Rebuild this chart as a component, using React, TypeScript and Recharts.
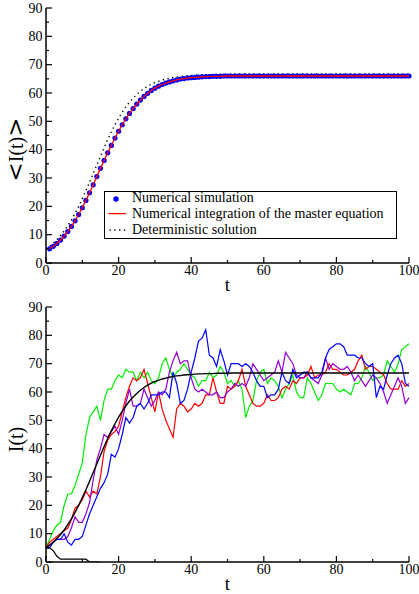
import React from 'react';
import { LineChart, Line, XAxis, YAxis, Legend } from 'recharts';

const FONT = '"Liberation Serif", "Times New Roman", Times, serif';

// ---------- tick definitions ----------
const tTicks = [0, 10, 20, 30, 40, 50, 60, 70, 80, 90, 100];
const yTicks = [0, 5, 10, 15, 20, 25, 30, 35, 40, 45, 50, 55, 60, 65, 70, 75, 80, 85, 90];

// ---------- top panel: <I(t)> ----------
// numerical simulation mean (t = 1..100)
const simMean = [
  5.0, 5.9, 6.9, 8.1, 9.5, 11.1, 12.9, 14.9, 17.1, 19.5,
  22.1, 24.8, 27.6, 30.5, 33.4, 36.2, 38.9, 41.5, 44.1, 46.5,
  48.8, 50.9, 52.8, 54.5, 56.1, 57.5, 58.8, 59.9, 60.9, 61.7,
  62.4, 63.0, 63.5, 63.9, 64.3, 64.6, 64.9, 65.1, 65.3, 65.4,
  65.5, 65.6, 65.7, 65.8, 65.8, 65.9, 65.9, 65.9, 66.0, 66.0,
  66.0, 66.0, 66.0, 66.0, 66.0, 66.0, 66.0, 66.0, 66.0, 66.0,
  66.0, 66.0, 66.0, 66.0, 66.0, 66.0, 66.0, 66.0, 66.0, 66.0,
  66.0, 66.0, 66.0, 66.0, 66.0, 66.0, 66.0, 66.0, 66.0, 66.0,
  66.0, 66.0, 66.0, 66.0, 66.0, 66.0, 66.0, 66.0, 66.0, 66.0,
  66.0, 66.0, 66.0, 66.0, 66.0, 66.0, 66.0, 66.0, 66.0, 66.0,
];
// numerical integration of the master equation (t = 1..100), overlaps the simulation
const masterEq = simMean;

// deterministic solution (t = 0..100)
const detSolution = [
  5.0, 5.9, 7.0, 8.3, 9.7, 11.3, 13.2, 15.2, 17.5, 20.0,
  22.7, 25.5, 28.5, 31.6, 34.6, 37.7, 40.7, 43.6, 46.3, 48.8,
  51.1, 53.2, 55.1, 56.8, 58.2, 59.5, 60.6, 61.6, 62.4, 63.1,
  63.7, 64.1, 64.6, 64.9, 65.2, 65.5, 65.7, 65.8, 66.0, 66.1,
  66.2, 66.3, 66.4, 66.4, 66.5, 66.5, 66.5, 66.6, 66.6, 66.6,
  66.6, 66.7, 66.7, 66.7, 66.7, 66.7, 66.7, 66.7, 66.7, 66.7,
  66.7, 66.7, 66.7, 66.7, 66.7, 66.7, 66.7, 66.7, 66.7, 66.7,
  66.7, 66.7, 66.7, 66.7, 66.7, 66.7, 66.7, 66.7, 66.7, 66.7,
  66.7, 66.7, 66.7, 66.7, 66.7, 66.7, 66.7, 66.7, 66.7, 66.7,
  66.7, 66.7, 66.7, 66.7, 66.7, 66.7, 66.7, 66.7, 66.7, 66.7,
  66.7,
];

// ---------- bottom panel: single realisations I(t), t = 0..100 ----------
const runGreen = [
  5, 8, 11, 13, 14, 20, 24, 24, 27, 31,
  35, 45, 51, 53, 55, 50, 57, 61, 61, 64,
  66, 65, 68, 67, 67, 64, 67, 65, 67, 64,
  63, 65, 70, 72, 68, 65, 67, 68, 70, 68,
  66, 65, 62, 64, 64, 67, 65, 66, 69, 67,
  63, 64, 62, 64, 61, 51, 55, 57, 64, 67,
  68, 63, 65, 64, 62, 58, 61, 63, 66, 60,
  58, 58, 65, 63, 60, 57, 59, 63, 63, 63,
  61, 60, 61, 60, 59, 63, 63, 65, 69, 67,
  64, 65, 65, 66, 71, 69, 67, 70, 75, 76,
  77,
];
const runRed = [
  5, 7, 8, 9, 10, 11, 12, 15, 19, 20,
  22, 25, 23, 25, 24, 30, 39, 43, 45, 46,
  48, 53, 58, 62, 65, 64, 65, 68, 63, 58,
  53, 60, 54, 50, 47, 44, 54, 56, 55, 53,
  54, 56, 55, 56, 59, 59, 65, 60, 56, 56,
  62, 61, 62, 64, 68, 62, 59, 56, 55, 55,
  56, 59, 57, 57, 58, 61, 62, 61, 64, 63,
  65, 65, 66, 69, 65, 66, 66, 67, 70, 68,
  68, 67, 66, 66, 67, 68, 71, 73, 68, 69,
  69, 68, 67, 66, 63, 61, 61, 61, 64, 62,
  63,
];
const runPurple = [
  5, 6, 7, 8, 8, 8, 9, 12, 16, 14,
  14, 17, 21, 29, 36, 40, 45, 44, 46, 48,
  45, 50, 56, 61, 55, 55, 56, 61, 58, 55,
  57, 60, 59, 61, 67, 71, 74, 70, 71, 71,
  65, 61, 60, 61, 60, 59, 59, 60, 58, 58,
  60, 61, 63, 62, 63, 62, 65, 70, 68, 66,
  64, 65, 66, 67, 71, 67, 74, 72, 70, 66,
  65, 65, 67, 65, 64, 63, 66, 72, 68, 70,
  69, 68, 68, 69, 67, 64, 66, 64, 62, 64,
  66, 65, 63, 60, 56, 59, 62, 65, 62, 56,
  58,
];
const runBlue = [
  5, 5, 7, 8, 8, 10, 7, 6, 8, 8,
  9, 13, 17, 20, 23, 26, 28, 31, 38, 37,
  40, 45, 51, 49, 51, 55, 56, 54, 56, 59,
  59, 59, 60, 60, 58, 67, 63, 56, 57, 61,
  67, 72, 78, 79, 82, 73, 72, 69, 75, 71,
  66, 70, 70, 70, 69, 70, 69, 67, 64, 62,
  62, 58, 59, 59, 61, 67, 64, 63, 68, 65,
  66, 67, 67, 65, 65, 65, 67, 72, 75, 76,
  77, 77, 76, 73, 73, 73, 72, 72, 70, 69,
  70, 58, 62, 61, 66, 70, 72, 73, 70, 63,
  62,
];
// realisation that goes extinct (t = 0..15)
const runExtinct = [5, 5, 4, 2, 1, 1, 1, 1, 1, 1, 1, 1, 0, 0, 0, 0];

const topData = detSolution.map((d, i) => ({
  t: i,
  det: d,
  sim: i >= 1 ? simMean[i - 1] : null,
  master: i >= 1 ? masterEq[i - 1] : null,
}));

const bottomData = runGreen.map((g, i) => ({
  t: i,
  green: g,
  red: runRed[i],
  purple: runPurple[i],
  blue: runBlue[i],
  det: detSolution[i],
  ext: i < runExtinct.length ? runExtinct[i] : null,
}));

// ---------- axis decorations ----------
const MAJ = 6;
const MIN = 3;
const TICK_W = 1.2;

const BottomTick = (props: any) => {
  const { x, y, payload } = props;
  const major = payload.value % 20 === 0;
  return (
    <g>
      <line x1={x} x2={x} y1={y} y2={y - (major ? MAJ : MIN)} stroke="#000" strokeWidth={TICK_W} />
      {major && (
        <text x={x} y={y + 11.5} textAnchor="middle" fontSize={14} fontFamily={FONT} fill="#000">
          {payload.value}
        </text>
      )}
    </g>
  );
};
const TopTick = (props: any) => {
  const { x, y, payload } = props;
  const major = payload.value % 20 === 0;
  return <line x1={x} x2={x} y1={y} y2={y + (major ? MAJ : MIN)} stroke="#000" strokeWidth={TICK_W} />;
};
const LeftTick = (props: any) => {
  const { x, y, payload } = props;
  const major = payload.value % 10 === 0;
  return (
    <g>
      <line x1={x} x2={x + (major ? MAJ : MIN)} y1={y} y2={y} stroke="#000" strokeWidth={TICK_W} />
      {major && (
        <text x={x - 3.5} y={y + 4.5} textAnchor="end" fontSize={14} fontFamily={FONT} fill="#000">
          {payload.value}
        </text>
      )}
    </g>
  );
};
const RightTick = (props: any) => {
  const { x, y, payload } = props;
  const major = payload.value % 10 === 0;
  return <line x1={x} x2={x - (major ? MAJ : MIN)} y1={y} y2={y} stroke="#000" strokeWidth={TICK_W} />;
};

const XLabel = (props: any) => {
  const { viewBox, text } = props;
  return (
    <text x={viewBox.x + viewBox.width / 2} y={viewBox.y + 28} textAnchor="middle" fontSize={19} fontFamily={FONT} fill="#000">
      {text}
    </text>
  );
};
const YLabel = (props: any) => {
  const { viewBox, text, dyc, brackets } = props;
  const cx = viewBox.x + 23;
  const cy = viewBox.y + viewBox.height / 2 + (dyc || 0);
  return (
    <text x={cx} y={cy} transform={`rotate(-90 ${cx} ${cy})`} textAnchor="middle" fontSize={20} fontFamily={FONT} fill="#000">
      {brackets ? (
        <>
          <tspan fontFamily='"DejaVu Serif", serif' fontSize={23}>{'<'}</tspan>
          <tspan>{text}</tspan>
          <tspan fontFamily='"DejaVu Serif", serif' fontSize={23}>{'>'}</tspan>
        </>
      ) : (
        text
      )}
    </text>
  );
};

const axisLine = { stroke: '#000', strokeWidth: 1.5 };

const frameAxes = (
  xLabel: string,
  yLabel: string,
  bottomH: number,
  yDy: number,
  brackets: boolean,
  visible: boolean
) => [
  <XAxis
    key="xb"
    dataKey="t"
    type="number"
    domain={[0, 100]}
    ticks={tTicks}
    interval={0}
    tickSize={0}
    tickMargin={0}
    tickLine={false}
    tick={visible ? <BottomTick /> : false}
    axisLine={visible ? axisLine : false}
    height={bottomH}
    label={visible ? <XLabel text={xLabel} /> : undefined}
  />,
  <XAxis
    key="xt"
    xAxisId="top"
    orientation="top"
    dataKey="t"
    type="number"
    domain={[0, 100]}
    ticks={tTicks}
    interval={0}
    tickSize={0}
    tickMargin={0}
    tickLine={false}
    tick={visible ? <TopTick /> : false}
    axisLine={visible ? axisLine : false}
    height={0}
  />,
  <YAxis
    key="yl"
    type="number"
    domain={[0, 90]}
    ticks={yTicks}
    interval={0}
    tickSize={0}
    tickMargin={0}
    tickLine={false}
    tick={visible ? <LeftTick /> : false}
    axisLine={visible ? axisLine : false}
    width={46}
    allowDataOverflow
    label={visible ? <YLabel text={yLabel} dyc={yDy} brackets={brackets} /> : undefined}
  />,
  <YAxis
    key="yr"
    yAxisId="right"
    orientation="right"
    type="number"
    domain={[0, 90]}
    ticks={yTicks}
    interval={0}
    tickSize={0}
    tickMargin={0}
    tickLine={false}
    tick={visible ? <RightTick /> : false}
    axisLine={visible ? axisLine : false}
    width={0}
    allowDataOverflow
  />,
];

const legendRow: React.CSSProperties = {
  position: 'absolute',
  left: 27,
  fontFamily: FONT,
  fontSize: 14,
  lineHeight: '13px',
  height: 13,
  color: '#000',
  whiteSpace: 'nowrap',
};

const LegendBox = () => (
  <div
    style={{
      position: 'relative',
      width: 293,
      height: 48,
      border: '1px solid #000',
      background: '#fff',
      boxSizing: 'border-box',
    }}
  >
    <svg width={26} height={46} style={{ position: 'absolute', left: 0, top: 0 }}>
      <circle cx={11} cy={7} r={2.7} fill="#0000ff" />
      <line x1={3.5} x2={21} y1={21.6} y2={21.6} stroke="#ff0000" strokeWidth={1.3} />
      <line x1={4.5} x2={21} y1={38} y2={38} stroke="#000" strokeWidth={1.4} strokeDasharray="1.3 3.5" />
    </svg>
    <div style={{ ...legendRow, top: -0.8 }}>Numerical simulation</div>
    <div style={{ ...legendRow, top: 15 }}>Numerical integration of the master equation</div>
    <div style={{ ...legendRow, top: 31.3 }}>Deterministic solution</div>
  </div>
);

const TOP_H = 300;
const TOP_XH = 37;
const topMargin = { top: 8, right: 10, bottom: 0, left: 0 };

export default function App() {
  return (
    <div style={{ position: 'absolute', left: 0, top: 0, width: 419, height: 594, background: '#fff' }}>
      {/* bottom panel */}
      <div style={{ position: 'absolute', left: 0, top: 290 }}>
        <LineChart width={419} height={304} data={bottomData} margin={{ top: 17, right: 10, bottom: 0, left: 0 }}>
          {frameAxes('t', 'I(t)', 32, 5, false, true)}
          <Line dataKey="green" type="linear" stroke="#00ee00" strokeWidth={1.2} dot={false} isAnimationActive={false} />
          <Line dataKey="red" type="linear" stroke="#ff0000" strokeWidth={1.2} dot={false} isAnimationActive={false} />
          <Line dataKey="purple" type="linear" stroke="#9400d3" strokeWidth={1.2} dot={false} isAnimationActive={false} />
          <Line dataKey="blue" type="linear" stroke="#0000ff" strokeWidth={1.2} dot={false} isAnimationActive={false} />
          <Line dataKey="det" type="linear" stroke="#000" strokeWidth={1.4} dot={false} isAnimationActive={false} />
          <Line dataKey="ext" type="linear" stroke="#000" strokeWidth={1.2} dot={false} isAnimationActive={false} />
        </LineChart>
      </div>
      {/* top panel: frame, deterministic curve, simulation points, legend */}
      <div style={{ position: 'absolute', left: 0, top: 0 }}>
        <LineChart width={419} height={TOP_H} data={topData} margin={topMargin}>
          {frameAxes('t', 'I(t)', TOP_XH, 14, true, true)}
          <Line
            dataKey="det"
            type="linear"
            stroke="#000"
            strokeWidth={1.4}
            strokeDasharray="1.3 3.5"
            dot={false}
            isAnimationActive={false}
          />
          <Line
            dataKey="sim"
            type="linear"
            stroke="none"
            dot={{ r: 2.6, fill: '#0000ff', stroke: 'none' }}
            isAnimationActive={false}
          />
          <Legend
            layout="vertical"
            align="center"
            verticalAlign="middle"
            content={() => <LegendBox />}
            wrapperStyle={{ left: 104, top: 191, width: 293, height: 48 }}
          />
        </LineChart>
      </div>
      {/* top panel overlay: master-equation curve drawn above the simulation points */}
      <div style={{ position: 'absolute', left: 0, top: 0, pointerEvents: 'none' }}>
        <LineChart width={419} height={TOP_H} data={topData} margin={topMargin}>
          {frameAxes('t', 'I(t)', TOP_XH, 14, true, false)}
          <Line dataKey="master" type="linear" stroke="#ff0000" strokeWidth={1.3} dot={false} isAnimationActive={false} />
        </LineChart>
      </div>
    </div>
  );
}
